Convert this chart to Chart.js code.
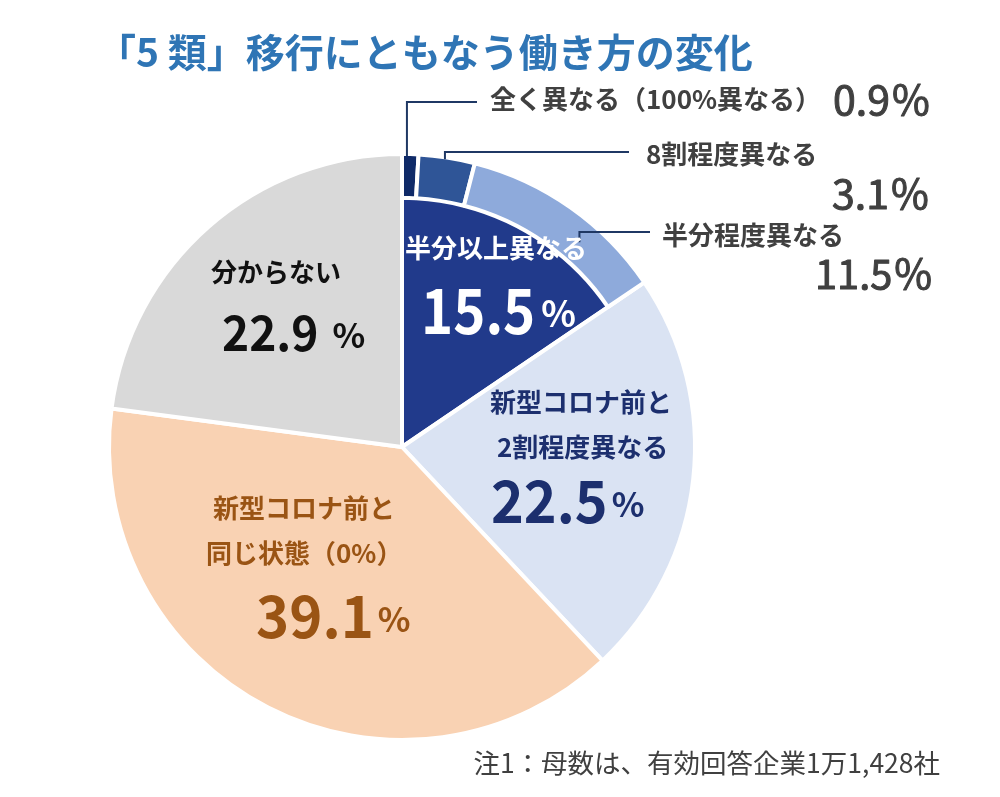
<!DOCTYPE html>
<html><head><meta charset="utf-8">
<script src="https://cdn.jsdelivr.net/npm/chart.js@4"></script>
<style>
html,body{margin:0;padding:0;background:#fff;}
#wrap{position:relative;width:1000px;height:797px;overflow:hidden;}
#wrap canvas{position:absolute;left:0;top:0;}
</style></head><body>
<div id="wrap"><canvas id="pie" width="1000" height="797"></canvas><canvas id="ring" width="1000" height="797"></canvas></div>
<script>
const mainCategories = ['半分以上異なる', '新型コロナ前と2割程度異なる', '新型コロナ前と同じ状態（0%）', '分からない'];
const mainValues = [15.5, 22.5, 39.1, 22.9];
const detailCategories = ['全く異なる（100%異なる）', '8割程度異なる', '半分程度異なる'];
const detailValues = [0.9, 3.1, 11.5];
const mainColors = ['#213a8b', '#dae3f3', '#f9d2b3', '#d9d9d9'];
const detailColors = ['#0f2a68', '#2f5597', '#8eaadb'];
const titleText = '「5 類」移行にともなう働き方の変化';
const noteText = '注1：母数は、有効回答企業1万1,428社';

const FONT = '"Noto Sans CJK JP", "Noto Sans", sans-serif';
const PAD = {left: 107, top: 152, right: 303, bottom: 55};

function txt(ctx, s, x, y, size, color, weight, align, sx, stroke) {
  ctx.save();
  ctx.font = weight + ' ' + size + 'px ' + FONT;
  ctx.fillStyle = color;
  ctx.textAlign = align || 'left';
  ctx.textBaseline = 'middle';
  const k = sx || 1;
  ctx.translate(x, y);
  ctx.scale(k, 1);
  ctx.fillText(s, 0, 0);
  if (stroke) {
    ctx.strokeStyle = color;
    ctx.lineWidth = stroke;
    ctx.lineJoin = 'round';
    ctx.strokeText(s, 0, 0);
  }
  const w = ctx.measureText(s).width * k;
  ctx.restore();
  return w;
}
function num(ctx, value, x, y, size, pctSize, color, gap, weight, sx, stroke) {
  const wt = weight || 'bold';
  const w = txt(ctx, value.toFixed(1), x, y, size, color, wt, 'left', sx, stroke);
  txt(ctx, '%', x + w + gap, y + (size - pctSize) * 0.12, pctSize, color, wt, 'left', 1, stroke);
}

const common = {
  responsive: false,
  animation: false,
  events: [],
  layout: {padding: PAD},
  plugins: {legend: {display: false}, tooltip: {enabled: false}}
};

new Chart(document.getElementById('pie'), {
  type: 'pie',
  data: {
    labels: mainCategories,
    datasets: [{data: mainValues, backgroundColor: mainColors, borderColor: '#ffffff', borderWidth: 4}]
  },
  options: common
});

const leaderPlugin = {
  id: 'labels',
  afterDraw(chart) {
    const ctx = chart.ctx;
    const arcs = chart.getDatasetMeta(0).data;
    const anchors = [
      {i: 0, f: 0.3, r: 'outer', y: 102, x2: 477},
      {i: 1, f: 0.47, r: 'outer', y: 152, x2: 629},
      {i: 2, f: 0.64, r: 'mid', y: 232, x2: 650}
    ];
    ctx.save();
    ctx.strokeStyle = '#1f3864';
    ctx.lineWidth = 2;
    anchors.forEach(a => {
      const arc = arcs[a.i];
      const ang = arc.startAngle + (arc.endAngle - arc.startAngle) * a.f;
      const rr = a.r === 'outer' ? arc.outerRadius - 2 : (arc.outerRadius + arc.innerRadius) / 2;
      const px = arc.x + rr * Math.cos(ang);
      const py = arc.y + rr * Math.sin(ang);
      ctx.beginPath();
      ctx.moveTo(px, py);
      ctx.lineTo(px, a.y);
      ctx.lineTo(a.x2, a.y);
      ctx.stroke();
    });
    ctx.restore();

    // title
    txt(ctx, titleText, 97, 52, 39, '#2f75b5', 'bold');
    // detail labels
    const dark = '#404040';
    txt(ctx, detailCategories[0], 490, 99, 26, dark, 'bold');
    num(ctx, detailValues[0], 833, 99, 41, 41, dark, 2, 'normal', 1, 1.0);
    txt(ctx, detailCategories[1], 646, 154, 26, dark, 'bold');
    num(ctx, detailValues[1], 832, 193, 41, 41, dark, 2, 'normal', 1, 1.0);
    txt(ctx, detailCategories[2], 662, 235, 26, dark, 'bold');
    num(ctx, detailValues[2], 815, 273, 41, 41, dark, 2, 'normal', 0.97, 1.0);

    // inner labels
    txt(ctx, mainCategories[3], 211, 272, 26, '#111111', 'bold');
    num(ctx, mainValues[3], 222, 333, 48, 34, '#111111', 14, 'bold', 0.96);

    txt(ctx, mainCategories[0], 405, 248, 26, '#ffffff', 'bold');
    num(ctx, mainValues[0], 421, 310, 62, 36, '#ffffff', 6, 'bold', 0.88);

    const navyT = '#1c2f6e';
    txt(ctx, '新型コロナ前と', 490, 402, 26, navyT, 'bold');
    txt(ctx, '2割程度異なる', 497, 447, 26, navyT, 'bold');
    num(ctx, mainValues[1], 491, 501, 58, 34, navyT, 4, 'bold', 0.96);

    const brown = '#9a5414';
    txt(ctx, '新型コロナ前と', 213, 508, 26, brown, 'bold');
    txt(ctx, '同じ状態（0%）', 206, 553, 26, brown, 'bold');
    num(ctx, mainValues[2], 256, 616, 58, 34, brown, 4, 'bold', 0.97);

    // note
    txt(ctx, noteText, 940, 763, 26.5, dark, 'normal', 'right');
  }
};

new Chart(document.getElementById('ring'), {
  type: 'doughnut',
  data: {
    labels: detailCategories.concat(mainCategories.slice(1)),
    datasets: [{
      data: detailValues.concat(mainValues.slice(1)),
      backgroundColor: detailColors.concat(['rgba(0,0,0,0)', 'rgba(0,0,0,0)', 'rgba(0,0,0,0)']),
      borderColor: '#ffffff',
      borderWidth: [4, 4, 4, 0, 0, 0]
    }]
  },
  options: Object.assign({}, common, {cutout: '85%'}),
  plugins: [leaderPlugin]
});
</script>
</body></html>
